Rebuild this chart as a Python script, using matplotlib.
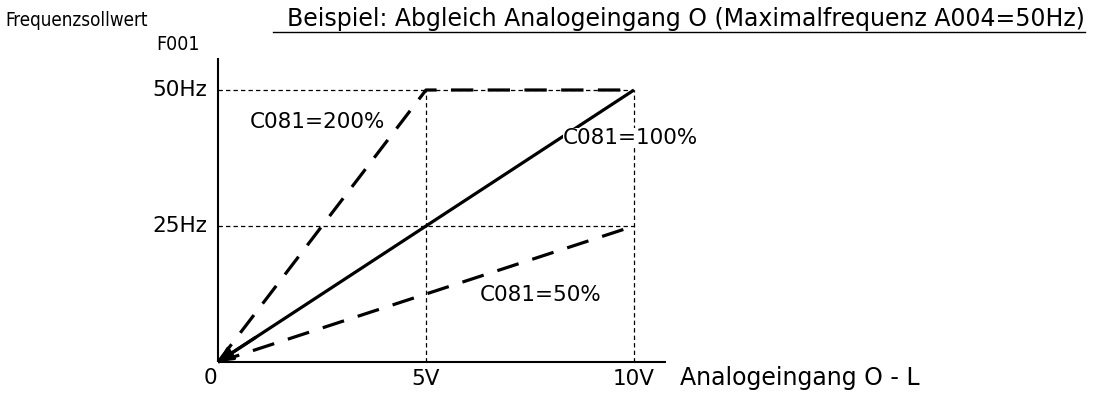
import matplotlib.pyplot as plt

# input voltage (V) and output frequency (Hz)
volt_ticks = [5, 10]
volt_labels = ['5V', '10V']
freq_ticks = [25, 50]
freq_labels = ['25Hz', '50Hz']

# gain curves C081
gain_100_x = [0, 10]
gain_100_y = [0, 50]
gain_200_x = [0, 5, 10]
gain_200_y = [0, 50, 50]
gain_50_x = [0, 10]
gain_50_y = [0, 25]

W, H = 1093, 396
fig = plt.figure(figsize=(W / 100, H / 100), dpi=100)
# origin at pixel (218, 362), (10V, 50Hz) at pixel (634, 90)
ax = fig.add_axes([218 / W, (H - 362) / H, 416 / W, 272 / H])
ax.set_xlim(0, 10)
ax.set_ylim(0, 50)
ax.axis('off')

fs = 15.5
px_x = 10 / 416
px_y = 50 / 272

# axes
ax.plot([0, 10.77], [0, 0], color='black', lw=1.5, clip_on=False, solid_capstyle='butt')
ax.plot([0, 0], [0, 55.9], color='black', lw=1.5, clip_on=False, solid_capstyle='butt')

# thin guide lines
thin = dict(color='black', lw=0.9, dashes=(3.5, 2.5), clip_on=False)
for f in freq_ticks:
    ax.plot([0, 10], [f, f], **thin)
for v in volt_ticks:
    ax.plot([v, v], [0, 50], **thin)

# curves
ax.plot(gain_100_x, gain_100_y, color='black', lw=2.3, clip_on=False, solid_capstyle='butt')
ax.plot(gain_200_x, gain_200_y, color='black', lw=2.3, dashes=(7, 4.5), clip_on=False)
ax.plot(gain_50_x, gain_50_y, color='black', lw=2.3, dashes=(7, 4.5), clip_on=False)
ax.annotate('', xy=(0, 0), xytext=(0.9, 4.5),
            arrowprops=dict(arrowstyle='-|>', color='black', lw=2.3,
                            mutation_scale=22, shrinkA=0, shrinkB=0))

# tick labels
for v, lab in zip(volt_ticks, volt_labels):
    ax.text(v, -17 * px_y, lab, ha='center', va='center', fontsize=fs)
ax.text(-8 * px_x, -16 * px_y, '0', ha='center', va='center', fontsize=fs)
for f, lab in zip(freq_ticks, freq_labels):
    ax.text(-11 * px_x, f, lab, ha='right', va='center', fontsize=fs)

# curve labels, masking the lines behind them
box = dict(facecolor='white', edgecolor='none', pad=0)
ax.text(32 * px_x, 50 - 32 * px_y, 'C081=200%', ha='left', va='center', fontsize=fs)
ax.text(345 * px_x, 50 - 48 * px_y, 'C081=100%', ha='left', va='center', fontsize=fs, bbox=box)
ax.text(262 * px_x, 67 * px_y, 'C081=50%', ha='left', va='center', fontsize=fs)

# axis titles
ax.text(462 * px_x, -16 * px_y, 'Analogeingang O - L', ha='left', va='center', fontsize=17)
fig.text(5 / W, 1 - 20 / H, 'Frequenzsollwert', ha='left', va='center', fontsize=13.5,
         fontstretch='condensed')
fig.text(200 / W, 1 - 45 / H, 'F001', ha='right', va='center', fontsize=14,
         fontstretch='condensed')
fig.text(1085 / W, 1 - 19 / H, 'Beispiel: Abgleich Analogeingang O (Maximalfrequenz A004=50Hz)',
         ha='right', va='center', fontsize=17)
fig.add_artist(plt.Line2D([273 / W, 1085 / W], [1 - 32 / H, 1 - 32 / H],
                          color='black', lw=1.0, transform=fig.transFigure))

fig.savefig('out.png', dpi=100)
